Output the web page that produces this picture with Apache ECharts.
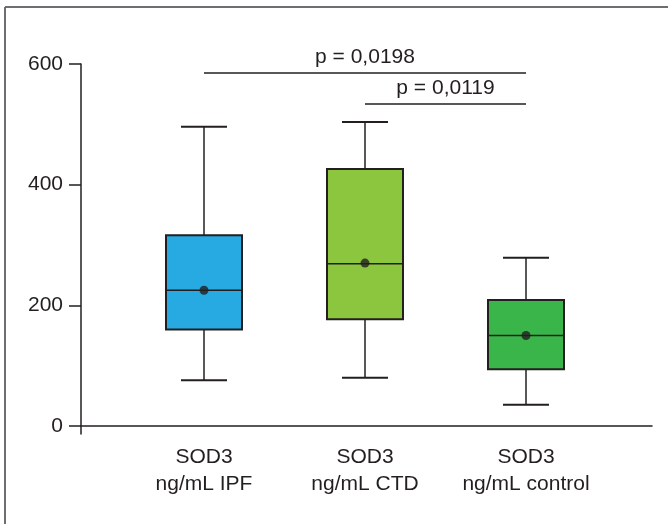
<!DOCTYPE html>
<html>
<head>
<meta charset="utf-8">
<script src="https://cdn.jsdelivr.net/npm/echarts@6/dist/echarts.min.js"></script>
<style>html,body{margin:0;padding:0;background:#fff}#chart{width:668px;height:524px}</style>
</head>
<body>
<div id="chart"></div>
<script>
var groups = ['SOD3\nng/mL IPF', 'SOD3\nng/mL CTD', 'SOD3\nng/mL control'];
var boxColors = ['#27a9e1', '#8cc63e', '#3ab54a'];
// min, Q1, median, Q3, max
var boxStats = [
    [76, 160, 225, 316, 496],
    [80, 177, 269, 426, 504],
    [35, 94, 150, 209, 279]
];
var means = [225, 270, 150];
var yTicks = [0, 200, 400, 600];
var pLabels = ['p = 0,0198', 'p = 0,0119'];
var pLevels = [585, 534];
var pPairs = [[0, 2], [1, 2]];

var ink = '#231f20';
var yMin = -13.3, yMax = 600;

var chart = echarts.init(document.getElementById('chart'));

function renderBox(params, api) {
    var i = api.value(0);
    var pMin = api.coord([i, api.value(1)]);
    var pQ1 = api.coord([i, api.value(2)]);
    var pMed = api.coord([i, api.value(3)]);
    var pQ3 = api.coord([i, api.value(4)]);
    var pMax = api.coord([i, api.value(5)]);
    var x = pMin[0];
    var bw = 76, cw = 46;
    var st = {stroke: ink, lineWidth: 1.5};
    return {
        type: 'group',
        children: [
            {type: 'line', shape: {x1: x, y1: pMax[1], x2: x, y2: pQ3[1]}, style: st},
            {type: 'line', shape: {x1: x, y1: pQ1[1], x2: x, y2: pMin[1]}, style: st},
            {type: 'line', shape: {x1: x - cw / 2, y1: pMax[1], x2: x + cw / 2, y2: pMax[1]}, style: {stroke: ink, lineWidth: 2}},
            {type: 'line', shape: {x1: x - cw / 2, y1: pMin[1], x2: x + cw / 2, y2: pMin[1]}, style: {stroke: ink, lineWidth: 2}},
            {type: 'rect', shape: {x: x - bw / 2, y: pQ3[1], width: bw, height: pQ1[1] - pQ3[1]},
                style: {fill: boxColors[i], stroke: ink, lineWidth: 2}},
            {type: 'line', shape: {x1: x - bw / 2, y1: pMed[1], x2: x + bw / 2, y2: pMed[1]}, style: st}
        ]
    };
}

var option = {
    animation: false,
    textStyle: {fontFamily: 'Liberation Sans, Arial, sans-serif'},
    grid: [
        {left: 123.5, right: 61.5, top: 64, bottom: 90},
        {left: 81, right: 16, top: 64, bottom: 90}
    ],
    xAxis: [
        {
            type: 'category', gridIndex: 0, data: groups,
            axisLine: {show: false}, axisTick: {show: false},
            axisLabel: {color: ink, fontSize: 21, lineHeight: 27, margin: 10, interval: 0, hideOverlap: false}
        },
        {
            type: 'value', gridIndex: 1, min: 0, max: 1,
            axisLine: {show: true, onZero: true, lineStyle: {color: ink, width: 1.5}},
            axisTick: {show: false}, axisLabel: {show: false}, splitLine: {show: false}
        }
    ],
    yAxis: [
        {type: 'value', gridIndex: 0, min: yMin, max: yMax, show: false, splitLine: {show: false}},
        {
            type: 'value', gridIndex: 1, min: yMin, max: yMax,
            axisLine: {show: true, lineStyle: {color: ink, width: 1.5}},
            axisTick: {show: true, length: 12, customValues: yTicks, lineStyle: {color: ink, width: 1.5}},
            axisLabel: {color: ink, fontSize: 21, margin: 18, customValues: yTicks},
            splitLine: {show: false}
        }
    ],
    graphic: [
        {type: 'line', shape: {x1: 5, y1: 7, x2: 668, y2: 7}, style: {stroke: '#6d6e71', lineWidth: 2}},
        {type: 'line', shape: {x1: 5, y1: 7, x2: 5, y2: 524}, style: {stroke: '#6d6e71', lineWidth: 2}}
    ],
    series: [
        {
            type: 'custom', xAxisIndex: 0, yAxisIndex: 0,
            renderItem: renderBox,
            encode: {x: 0, y: [1, 2, 3, 4, 5]},
            data: boxStats.map(function (s, i) { return [i].concat(s); }),
            z: 2
        },
        {
            type: 'scatter', xAxisIndex: 0, yAxisIndex: 0,
            data: means.map(function (m, i) { return [i, m]; }),
            symbolSize: 9, itemStyle: {color: ink}, z: 3,
            markLine: {
                silent: true, symbol: 'none', animation: false,
                lineStyle: {color: ink, width: 1.5, type: 'solid'},
                label: {position: 'middle', color: ink, fontSize: 21, distance: 5},
                data: pPairs.map(function (pr, k) {
                    return [
                        {coord: [pr[0], pLevels[k]], name: pLabels[k], label: {formatter: pLabels[k]}},
                        {coord: [pr[1], pLevels[k]]}
                    ];
                })
            }
        }
    ]
};

chart.setOption(option);
</script>
</body>
</html>
